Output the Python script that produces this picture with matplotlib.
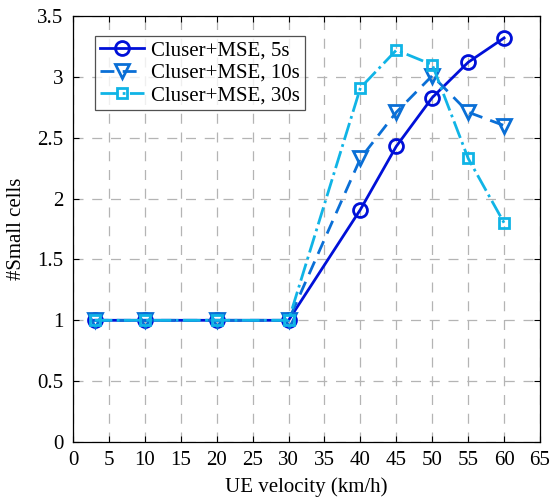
import matplotlib
matplotlib.use("Agg")
import matplotlib.pyplot as plt

plt.rcParams['font.family'] = ['Liberation Serif', 'DejaVu Serif']
plt.rcParams['font.size'] = 15

velocity = [3, 10, 20, 30, 40, 45, 50, 55, 60]
cells_5s = [1, 1, 1, 1, 1.91, 2.43, 2.83, 3.12, 3.32]
cells_10s = [1, 1, 1, 1, 2.33, 2.71, 3.01, 2.71, 2.60]
cells_30s = [1, 1, 1, 1, 2.91, 3.22, 3.10, 2.33, 1.80]
x_ticks = list(range(0, 70, 5))
y_ticks = [0, 0.5, 1, 1.5, 2, 2.5, 3, 3.5]

fig = plt.figure(figsize=(5.56, 4.99), dpi=100)
ax = fig.add_axes([0.1313, 0.1142, 0.840, 0.8537])

ax.plot(velocity, cells_5s, '-o', color='#0010D8', lw=2, ms=10,
        mfc='none', mew=2, label='Cluser+MSE, 5s')
ax.plot(velocity, cells_10s, '--v', color='#0A6FD6', lw=2, ms=10,
        mfc='none', mew=2, label='Cluser+MSE, 10s', dashes=(5, 3))
ax.plot(velocity, cells_30s, '-.s', color='#10B4E6', lw=2, ms=7,
        mfc='none', mew=2, label='Cluser+MSE, 30s')

ax.set_xlim(0, 65)
ax.set_ylim(0, 3.5)
ax.set_xticks(x_ticks)
ax.set_yticks(y_ticks)
ax.set_yticklabels(['0', '0.5', '1', '1.5', '2', '2.5', '3', '3.5'])
ax.grid(True, ls=(0, (8, 7)), color='#B4B4B4', lw=0.9)
ax.tick_params(direction='in', length=4, top=True, right=True, labelsize=15)
ax.tick_params(axis='x', pad=6.5)
ax.tick_params(axis='y', pad=7)
for s in ax.spines.values():
    s.set_linewidth(0.9)

ax.set_xlabel('UE velocity (km/h)', fontsize=15, labelpad=5)
ax.set_ylabel('#Small cells', fontsize=15, labelpad=8)

leg = ax.legend(loc='upper left', bbox_to_anchor=(0.047, 0.953), fontsize=15,
                frameon=True, fancybox=False, edgecolor='#262626',
                handlelength=2.15, borderpad=0.22, labelspacing=0.15,
                handletextpad=0.34, borderaxespad=0.0)
leg.get_frame().set_linewidth(0.9)

fig.savefig('out.png', dpi=100)
